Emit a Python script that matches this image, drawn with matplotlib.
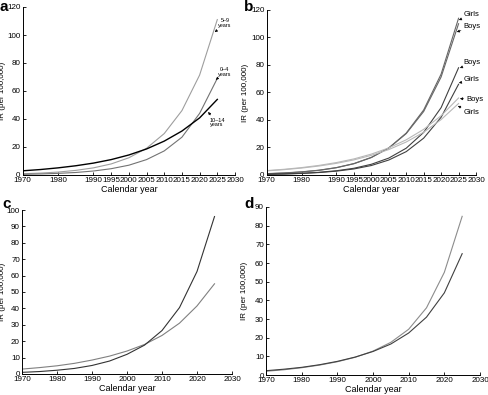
import matplotlib
matplotlib.use("Agg")
import matplotlib.pyplot as plt

plt.rcParams['font.family'] = ['Liberation Sans', 'DejaVu Sans']

years = [1970, 1975, 1980, 1985, 1990, 1995, 2000, 2005, 2010, 2015, 2020, 2025]

# Panel a: age groups
a_0_4 = [0.47, 0.74, 1.16, 1.8, 2.85, 4.5, 7.0, 11.0, 17.2, 27.0, 44.0, 69.0]
a_5_9 = [0.9, 1.36, 2.1, 3.3, 5.1, 7.9, 12.3, 19.1, 29.6, 46.0, 71.4, 111.0]
a_10_14 = [3.0, 3.9, 5.1, 6.6, 8.5, 11.0, 14.3, 18.6, 24.2, 31.4, 40.8, 54.0]

# Panel b: age groups by sex
b_5_9_girls = [0.9, 1.4, 2.2, 3.4, 5.3, 8.2, 12.7, 19.7, 30.5, 47.3, 73.4, 114.0]
b_5_9_boys = [1.0, 1.5, 2.3, 3.5, 5.4, 8.3, 12.8, 19.6, 30.1, 46.2, 71.3, 110.0]
b_0_4_boys = [0.49, 0.78, 1.23, 1.95, 3.1, 4.9, 7.8, 12.3, 19.5, 31.0, 49.0, 78.0]
b_0_4_girls = [0.47, 0.73, 1.15, 1.8, 2.8, 4.4, 6.9, 10.9, 17.0, 26.8, 42.0, 66.0]
b_10_14_boys = [3.2, 4.15, 5.38, 6.98, 9.05, 11.7, 15.2, 19.7, 25.6, 33.2, 43.1, 56.0]
b_10_14_girls = [3.0, 3.89, 5.04, 6.54, 8.48, 11.0, 14.3, 18.5, 24.0, 31.1, 40.3, 52.0]

# Panel c
c_dark = [1.0, 1.5, 2.3, 3.4, 5.2, 7.9, 12.0, 17.6, 26.5, 40.5, 62.5, 96.0]
c_gray = [3.0, 3.9, 5.0, 6.5, 8.5, 10.9, 14.0, 18.0, 23.5, 31.0, 41.5, 55.0]

# Panel d
d_light = [2.0, 2.8, 3.9, 5.3, 7.1, 9.5, 12.8, 17.5, 24.5, 36.0, 55.0, 85.0]
d_dark = [2.3, 3.1, 4.1, 5.5, 7.3, 9.6, 12.6, 16.6, 22.5, 31.0, 44.0, 65.0]

xticks_ab = [1970, 1980, 1990, 1995, 2000, 2005, 2010, 2015, 2020, 2025, 2030]
xticks_cd = [1970, 1980, 1990, 2000, 2010, 2020, 2030]

W, H = 488, 395
fig = plt.figure(figsize=(W / 100, H / 100), dpi=100)


def px_axes(l, t, r, b):
    return fig.add_axes([l / W, 1 - b / H, (r - l) / W, (b - t) / H])


def style(ax, xt, ymax, ystep, ylab_x):
    ax.set_xlim(1970, 2030)
    ax.set_ylim(0, ymax)
    ax.set_xticks(xt)
    ax.set_yticks(range(0, ymax + 1, ystep))
    for s in ['top', 'right']:
        ax.spines[s].set_visible(False)
    for s in ['left', 'bottom']:
        ax.spines[s].set_linewidth(0.7)
    ax.tick_params(direction='in', length=2.5, width=0.6, labelsize=5.8, pad=1.5)
    ax.set_xlabel('Calendar year', fontsize=6.5, labelpad=0.5)
    ax.set_ylabel('IR (per 100,000)', fontsize=5.8)
    ax.yaxis.set_label_coords(ylab_x, 0.5)


lw = 0.8

# ---- a ----
ax = px_axes(22.7, 7, 235, 175)
ax.plot(years, a_5_9, color='0.62', lw=lw)
ax.plot(years, a_0_4, color='0.45', lw=lw)
ax.plot(years, a_10_14, color='black', lw=1.0)
style(ax, xticks_ab, 120, 20, -0.078)
ap = dict(arrowstyle='-|>', lw=0.4, color='black', mutation_scale=4, shrinkA=0, shrinkB=0)
ax.annotate('5–9\nyears', xy=(2024.3, 102), xytext=(2027.2, 108.5), fontsize=4, ha='center',
            va='center', arrowprops=ap, annotation_clip=False, linespacing=0.85)
ax.annotate('0–4\nyears', xy=(2024.6, 68), xytext=(2027.0, 73.5), fontsize=4, ha='center',
            va='center', arrowprops=ap, annotation_clip=False, linespacing=0.85)
ax.annotate('10–14\nyears', xy=(2022.4, 45), xytext=(2024.9, 37.5), fontsize=4, ha='center',
            va='center', arrowprops=ap, annotation_clip=False, linespacing=0.85)
fig.text(0 / W, 1 - 0 / H, 'a', fontsize=11, fontweight='bold', ha='left', va='top')

# ---- b ----
ax = px_axes(266.7, 10, 476, 175)
ax.plot(years, b_5_9_girls, color='0.4', lw=lw)
ax.plot(years, b_5_9_boys, color='0.4', lw=lw)
ax.plot(years, b_0_4_boys, color='0.25', lw=lw)
ax.plot(years, b_0_4_girls, color='0.25', lw=lw)
ax.plot(years, b_10_14_boys, color='0.72', lw=lw)
ax.plot(years, b_10_14_girls, color='0.72', lw=lw)
style(ax, xticks_ab, 120, 20, -0.086)
labels_b = [('Girls', (2025.1, 112.7), (2026.5, 116.7)),
            ('Boys', (2024.5, 104.0), (2026.5, 108.0)),
            ('Boys', (2025.4, 77.8), (2026.5, 81.8)),
            ('Girls', (2025.1, 66.9), (2026.5, 69.5)),
            ('Boys', (2025.4, 55.5), (2027.3, 55.2)),
            ('Girls', (2024.8, 50.2), (2026.5, 45.5))]
for txt, xy, xyt in labels_b:
    ax.annotate(txt, xy=xy, xytext=xyt, fontsize=5.5, ha='left', va='center',
                arrowprops=ap, annotation_clip=False)
fig.text(244 / W, 1 - 0 / H, 'b', fontsize=11, fontweight='bold', ha='left', va='top')

# ---- c ----
ax = px_axes(22, 210, 232, 374)
ax.plot(years, c_gray, color='0.5', lw=lw)
ax.plot(years, c_dark, color='0.2', lw=lw)
style(ax, xticks_cd, 100, 10, -0.078)
fig.text(2 / W, 1 - 197 / H, 'c', fontsize=11, fontweight='bold', ha='left', va='top')

# ---- d ----
ax = px_axes(266, 207, 480, 375)
ax.plot(years, d_light, color='0.55', lw=lw)
ax.plot(years, d_dark, color='0.25', lw=lw)
style(ax, xticks_cd, 90, 10, -0.083)
fig.text(244 / W, 1 - 197 / H, 'd', fontsize=11, fontweight='bold', ha='left', va='top')

fig.savefig('out.png', dpi=100)
